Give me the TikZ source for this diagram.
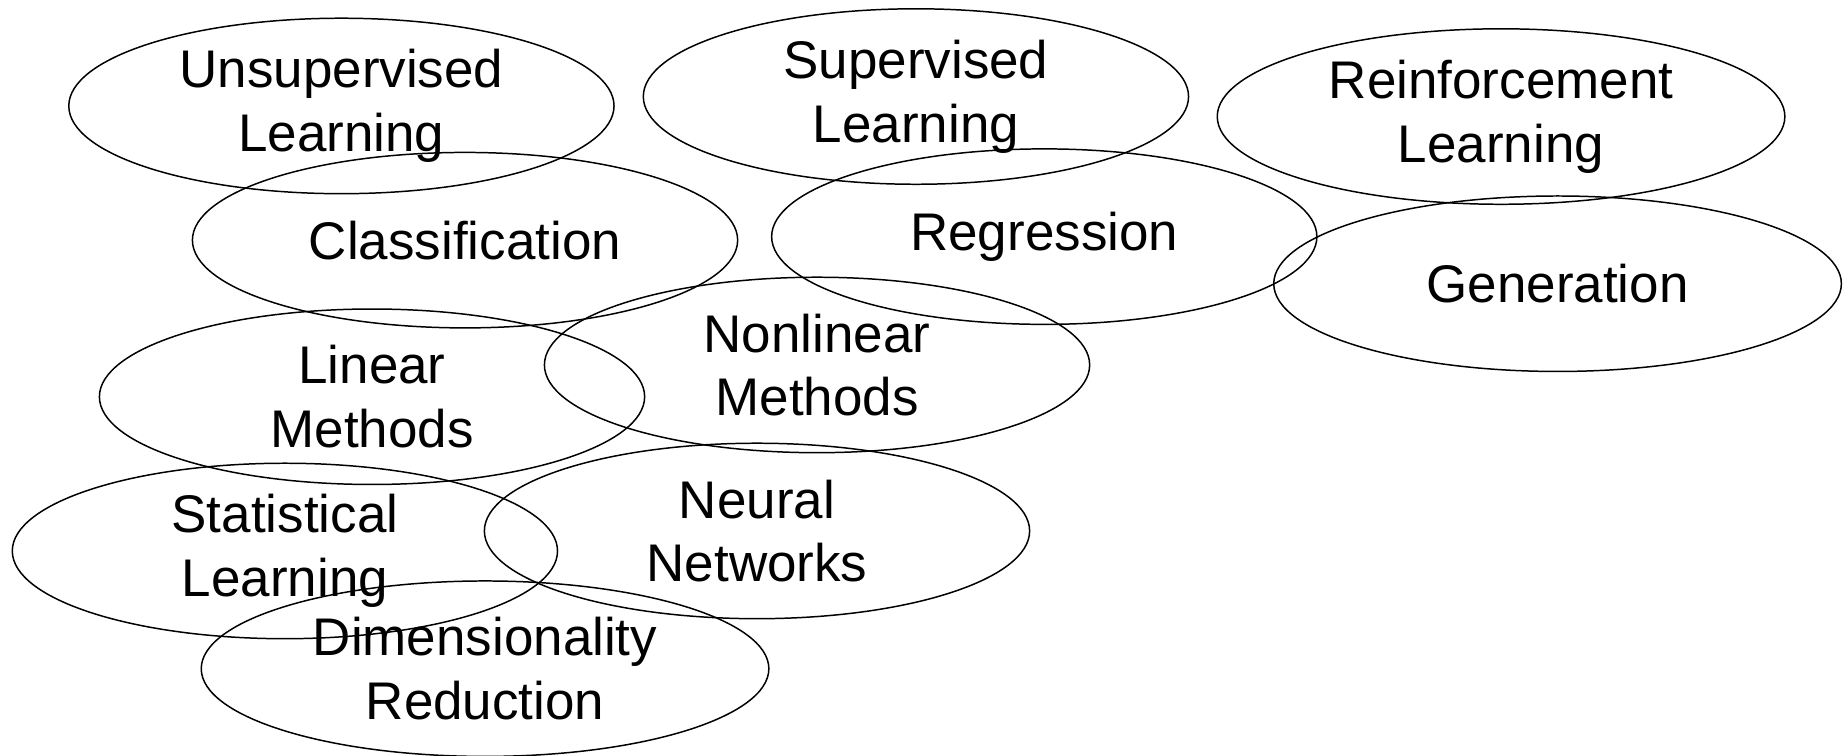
\documentclass[tikz,border=0pt]{standalone}
\usepackage{fontspec}
\setmainfont{Liberation Sans}
\usetikzlibrary{shapes.geometric}

\tikzset{
	topic/.style={draw, ellipse, line width=0.9pt, inner sep=0pt,
		minimum width=11.575cm, minimum height=3.725cm, align=center,
		font=\fontsize{32}{38.5}\selectfont},
	widetopic/.style={topic, minimum width=12.05cm}
}

\begin{document}
\begin{tikzpicture}[x=0.025cm, y=-0.025cm]
			\useasboundingbox (0,0) rectangle (1568,642);
			% top row
			\node[topic] (unsup) at (290,90) {Unsupervised\\Learning};
			\node[topic] (sup) at (778,82) {Supervised\\Learning};
			\node[widetopic] (reinf) at (1275,99) {Reinforcement\\Learning};
			% tasks
			\node[topic] (classif) at (395,204) {Classification};
			\node[topic] (regr) at (887,201) {Regression};
			\node[widetopic] (gen) at (1323,241) {Generation};
			% methods
			\node[topic] (linear) at (316,337) {Linear\\Methods};
			\node[topic] (nonlinear) at (694,310) {Nonlinear\\Methods};
			\node[topic] (stat) at (242,468) {Statistical\\Learning};
			\node[topic] (neural) at (643,451) {Neural\\Networks};
			\node[widetopic] (dimred) at (412,568) {Dimensionality\\Reduction};
		\end{tikzpicture}
\end{document}
